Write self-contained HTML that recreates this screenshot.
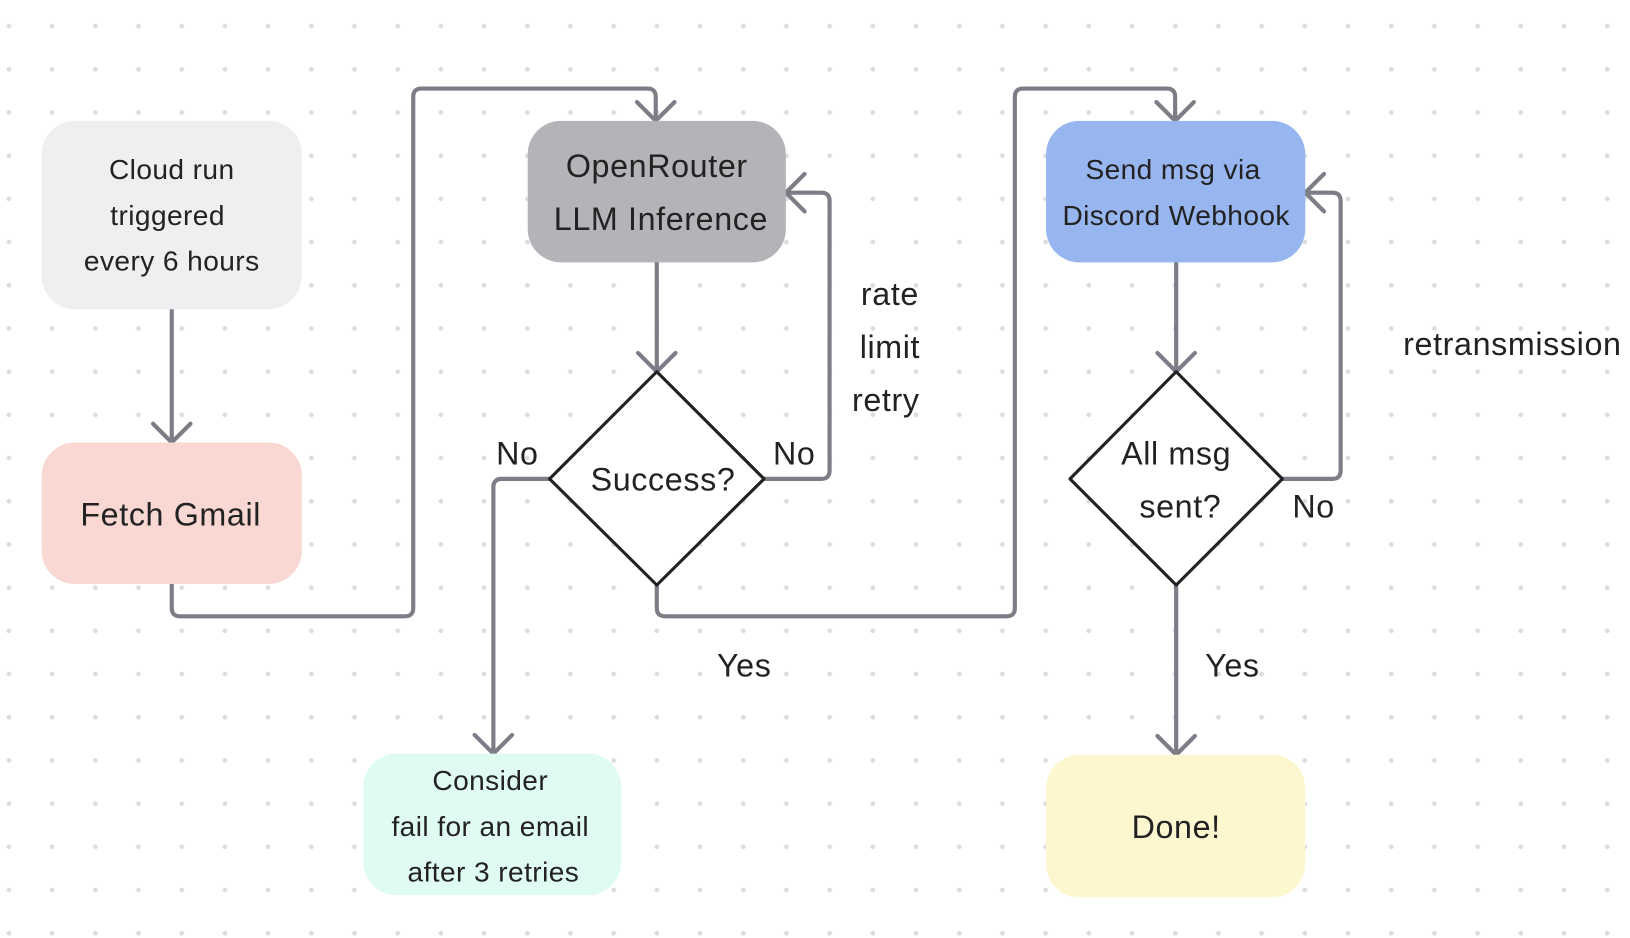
<!DOCTYPE html>
<html><head><meta charset="utf-8"><style>html,body{margin:0;padding:0;background:#fff}svg{display:block}</style></head><body>
<svg width="1630" height="938" viewBox="0 0 1566 901" xmlns="http://www.w3.org/2000/svg" font-family="Liberation Sans, sans-serif">
<defs>
<pattern id="d" x="-12.15" y="4.25" width="41.5" height="41.5" patternUnits="userSpaceOnUse"><circle cx="20.75" cy="20.75" r="2.3" fill="#dcdde2"/></pattern>
</defs>
<rect width="1566" height="901" fill="#fff"/>
<rect width="1566" height="901" fill="url(#d)"/>
<g fill="none" stroke="#7c7d86" stroke-width="4" stroke-linejoin="round" stroke-linecap="round">
<path d="M165 297V423M147 407L165 425L183 407"/>
<path d="M165 561V584Q165 592 173 592H389Q397 592 397 584V93Q397 85 405 85H622Q630 85 630 93V114M612 98L630 116L648 98"/>
<path d="M631 252V355M613 339L631 357L649 339"/>
<path d="M734 460H789Q797 460 797 452V193Q797 185 789 185H757M773 167L755 185L773 203"/>
<path d="M528 460H482Q474 460 474 468V722M456 706L474 724L492 706"/>
<path d="M631 562V584Q631 592 639 592H967Q975 592 975 584V93Q975 85 983 85H1121Q1129 85 1129 93V114M1111 98L1129 116L1147 98"/>
<path d="M1130 252V355M1112 339L1130 357L1148 339"/>
<path d="M1232 460H1280Q1288 460 1288 452V193Q1288 185 1280 185H1256M1272 167L1254 185L1272 203"/>
<path d="M1130 562V723M1112 707L1130 725L1148 707"/>
</g>
<rect x="40" y="116" width="250" height="181" rx="32" fill="#efeff1"/>
<rect x="40" y="425" width="250" height="136" rx="32" fill="#f9d7d3"/>
<rect x="507" y="116" width="248" height="136" rx="32" fill="#b4b4b8"/>
<rect x="1005" y="116" width="249" height="136" rx="32" fill="#97b5ee"/>
<rect x="349" y="724" width="248" height="136" rx="32" fill="#e0fbf0"/>
<rect x="1005" y="725" width="249" height="137" rx="32" fill="#fdf7cf"/>
<g fill="#fff" stroke="#222" stroke-width="3" stroke-linejoin="round">
<path d="M631 357L734 460L631 562L528 460Z"/>
<path d="M1130 357L1232 460L1130 562L1028 460Z"/>
</g>
<g fill="#222" text-anchor="middle" font-size="27" letter-spacing="0.4">
<text x="165" y="172">Cloud run</text>
<text x="161" y="216">triggered</text>
<text x="165" y="260">every 6 hours</text>
<text x="1127" y="172">Send msg via</text>
<text x="1130" y="216">Discord Webhook</text>
<text x="471" y="759">Consider</text>
<text x="471" y="803">fail for an email</text>
<text x="474" y="847">after 3 retries</text>
</g>
<g fill="#222" text-anchor="middle" font-size="31" letter-spacing="0.6">
<text x="164" y="505">Fetch Gmail</text>
<text x="631" y="170">OpenRouter</text>
<text x="635" y="221">LLM Inference</text>
<text x="637" y="471">Success?</text>
<text x="1130" y="446">All msg</text>
<text x="1134" y="497">sent?</text>
<text x="1130" y="805">Done!</text>
<text x="497" y="446">No</text>
<text x="763" y="446">No</text>
<text x="855" y="293">rate</text>
<text x="855" y="344">limit</text>
<text x="851" y="395">retry</text>
<text x="1453" y="341">retransmission</text>
<text x="1262" y="497">No</text>
<text x="715" y="650">Yes</text>
<text x="1184" y="650">Yes</text>
</g>
</svg>
</body></html>
